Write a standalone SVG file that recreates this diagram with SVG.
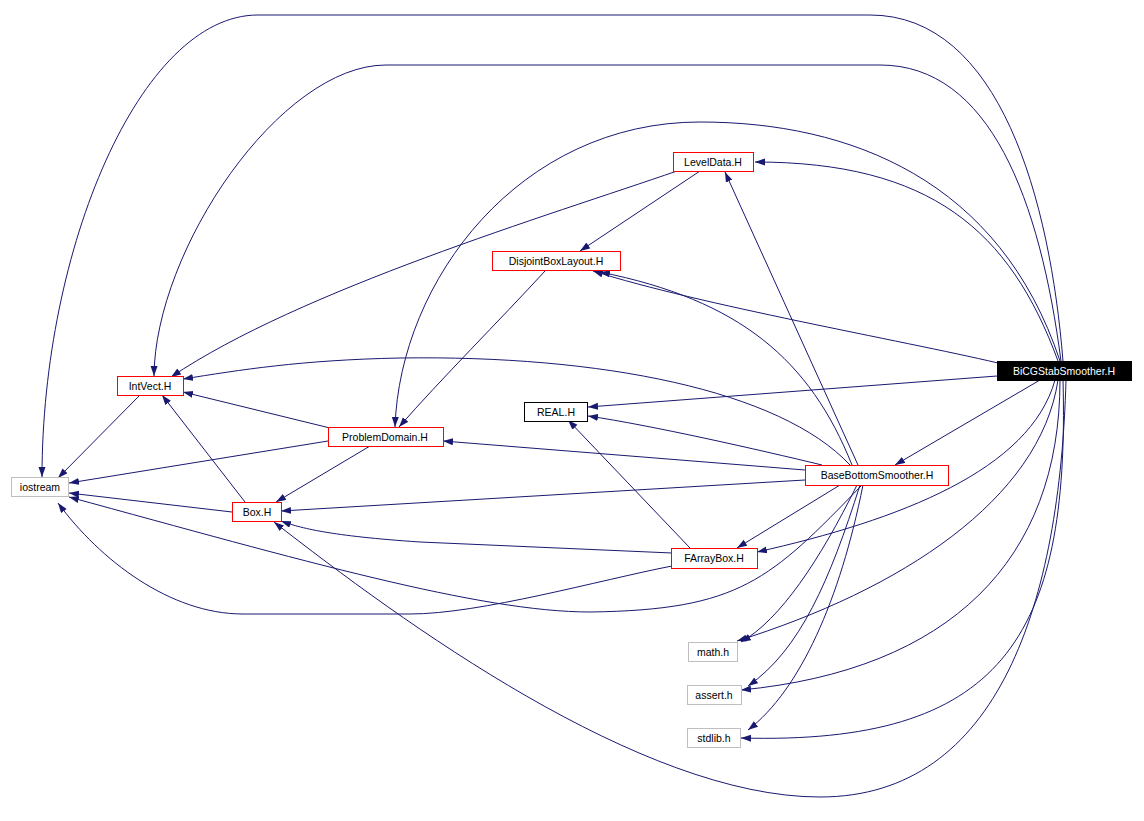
<svg xmlns="http://www.w3.org/2000/svg" width="1144" height="821" viewBox="0 0 1144 821">
<style>
.e{fill:none;stroke:#191970;stroke-width:1;marker-end:url(#ah)}
.n rect{fill:#ffffff;stroke:#ff0000;stroke-width:1}
.g rect{fill:#ffffff;stroke:#bfbfbf;stroke-width:1}
.r rect{fill:#000000;stroke:#000000}
.k rect{fill:#ffffff;stroke:#000000}
text{font-family:"Liberation Sans",Arial,sans-serif;font-size:10.5px;text-anchor:middle;fill:#000000}
.r text{fill:#ffffff}
</style>
<defs>
<marker id="ah" markerWidth="10" markerHeight="8" refX="10" refY="3.5" orient="auto" markerUnits="userSpaceOnUse">
<path d="M0,0 L10,3.5 L0,7 z" fill="#191970"/>
</marker>
</defs>
<rect width="1144" height="821" fill="#ffffff"/>
<g id="edges">
<path class="e" d="M1063,361 C1050,200 1000,15 870,15 L258,15 C140,15 42,250 42,477"/>
<path class="e" d="M1061,361 C1040,200 990,65 880,65 L386,65 C280,65 155,250 154,376"/>
<path class="e" d="M1058,361 C1010,230 930,162 755,162"/>
<path class="e" d="M998,363 C900,340 700,305 593,271"/>
<path class="e" d="M997,376 L588,407"/>
<path class="e" d="M1040,380 L895,465"/>
<path class="e" d="M1055,380 C1030,470 900,520 757,552"/>
<path class="e" d="M1058,380 C1040,500 900,590 737,641"/>
<path class="e" d="M1060,380 C1060,560 950,670 741,690"/>
<path class="e" d="M1063,380 C1070,640 1000,745 741,738"/>
<path class="e" d="M1066,380 C1060,600 1000,797 820,797 C640,797 400,620 274,522"/>
<path class="e" d="M1060,361 C1000,180 850,122 700,122 C520,122 400,280 395,427"/>
<path class="e" d="M858,465 L725,172"/>
<path class="e" d="M852,465 C810,360 740,300 600,272"/>
<path class="e" d="M850,465 C780,390 600,355 400,358 C300,360 240,370 183,379"/>
<path class="e" d="M805,470 L443,441"/>
<path class="e" d="M822,465 C760,450 650,425 588,416"/>
<path class="e" d="M805,480 L281,511"/>
<path class="e" d="M840,485 L737,548"/>
<path class="e" d="M862,485 C770,580 740,610 590,612 C480,612 300,560 69,497"/>
<path class="e" d="M857,485 C820,560 780,620 741,642"/>
<path class="e" d="M860,485 C830,580 800,650 748,686"/>
<path class="e" d="M863,485 C840,600 800,690 748,730"/>
<path class="e" d="M672,553 L420,542 C330,536 300,528 281,521"/>
<path class="e" d="M690,548 L568,420"/>
<path class="e" d="M672,566 C600,580 480,614 410,614 L243,614 C170,614 100,560 58,503"/>
<path class="e" d="M700,171 L580,251"/>
<path class="e" d="M677,171 C550,215 300,290 171,377"/>
<path class="e" d="M545,271 C500,320 440,380 399,427"/>
<path class="e" d="M330,428 L183,392"/>
<path class="e" d="M328,441 L69,483"/>
<path class="e" d="M370,446 L276,502"/>
<path class="e" d="M245,502 L162,395"/>
<path class="e" d="M232,512 L69,493"/>
<path class="e" d="M140,395 L58,478"/>
</g>
<g id="BiCGStabSmoother" class="r"><rect x="997.5" y="361.5" width="134" height="19"/><text x="1064" y="375">BiCGStabSmoother.H</text></g>
<g id="LevelData" class="n"><rect x="673.5" y="152.5" width="80" height="19"/><text x="713" y="166">LevelData.H</text></g>
<g id="DisjointBoxLayout" class="n"><rect x="492.5" y="251.5" width="128" height="19"/><text x="556" y="265">DisjointBoxLayout.H</text></g>
<g id="IntVect" class="n"><rect x="117.5" y="376.5" width="66" height="19"/><text x="150" y="390">IntVect.H</text></g>
<g id="iostream" class="g"><rect x="11.5" y="477.5" width="57" height="19"/><text x="40" y="491">iostream</text></g>
<g id="ProblemDomain" class="n"><rect x="328.5" y="427.5" width="115" height="19"/><text x="385" y="441">ProblemDomain.H</text></g>
<g id="REAL" class="k"><rect x="524.5" y="402.5" width="63" height="19"/><text x="556" y="416">REAL.H</text></g>
<g id="BaseBottomSmoother" class="n"><rect x="805.5" y="465.5" width="143" height="20"/><text x="877" y="479">BaseBottomSmoother.H</text></g>
<g id="Box" class="n"><rect x="232.5" y="502.5" width="49" height="19"/><text x="257" y="516">Box.H</text></g>
<g id="FArrayBox" class="n"><rect x="671.5" y="548.5" width="86" height="20"/><text x="714" y="562">FArrayBox.H</text></g>
<g id="math" class="g"><rect x="688.5" y="642.5" width="49" height="19"/><text x="713" y="656">math.h</text></g>
<g id="assert" class="g"><rect x="687.5" y="685.5" width="54" height="19"/><text x="714" y="699">assert.h</text></g>
<g id="stdlib" class="g"><rect x="687.5" y="728.5" width="53" height="19"/><text x="714" y="742">stdlib.h</text></g>
</svg>
